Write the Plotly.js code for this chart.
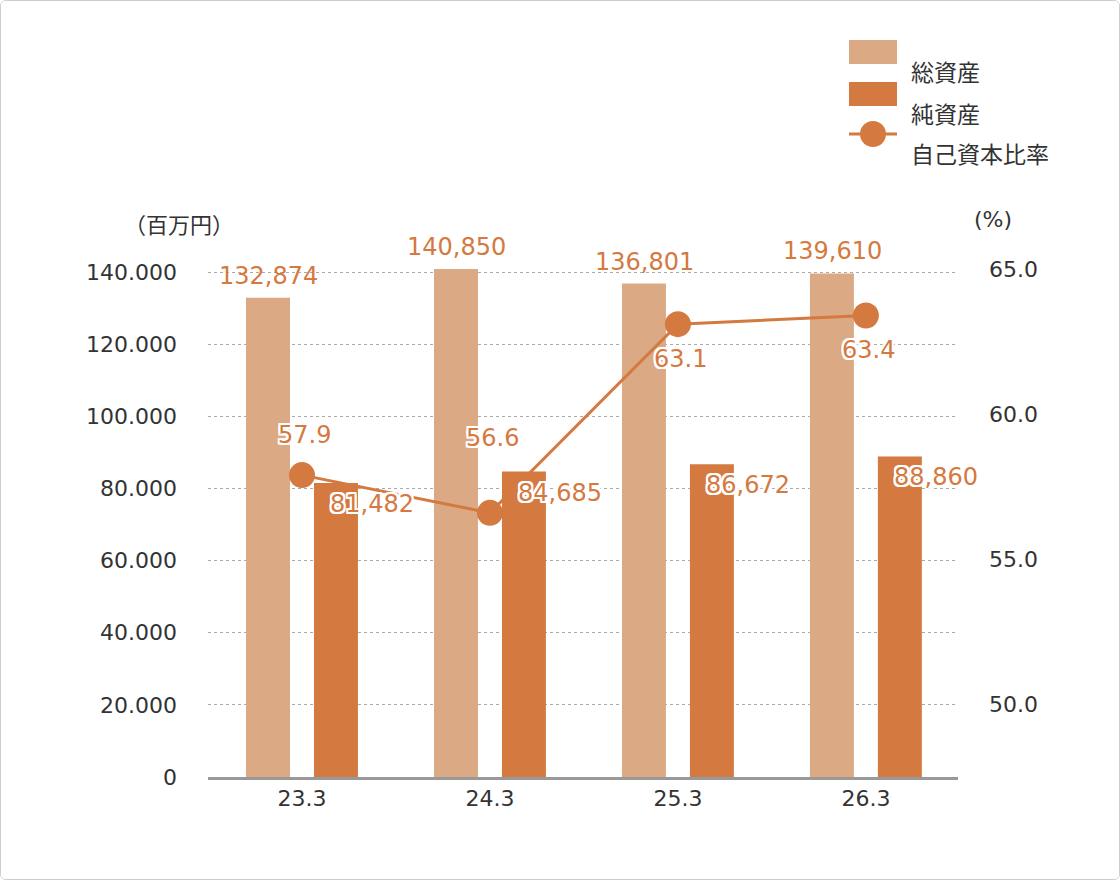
<!DOCTYPE html>
<html>
<head>
<meta charset="utf-8">
<script src="https://cdn.plot.ly/plotly-3.0.1.min.js"></script>
<style>
  body{margin:0;background:#fff}
  #chart{width:1118px;height:878px;border:1px solid #ccc;border-radius:6px;overflow:hidden}
</style>
</head>
<body>
<div id="chart"></div>
<script>
"use strict"

const categories = ["23.3", "24.3", "25.3", "26.3"]
const totalAssets = [132874, 140850, 136801, 139610]
const netAssets = [81482, 84685, 86672, 88860]
const equityRatio = [57.9, 56.6, 63.1, 63.4]
const ratioLabelShift = [40, 75, -35, -35]
const leftTicks = [0, 20000, 40000, 60000, 80000, 100000, 120000, 140000]
const rightTicks = [50, 55, 60, 65]
const legendNames = ["総資産", "純資産", "自己資本比率"]

const light = "#dba983"
const dark = "#d4793f"
const font = "DejaVu Sans, Noto Sans CJK JP, sans-serif"
const cjk = "Noto Sans CJK JP, sans-serif"
const halo = "2px 0 0 #fff, -2px 0 0 #fff, 0 2px 0 #fff, 0 -2px 0 #fff, 2px 2px 0 #fff, -2px -2px 0 #fff, 2px -2px 0 #fff, -2px 2px 0 #fff"

const fmt = v => v.toLocaleString("en-US")
const idx = categories.map((v,i)=>i)

const traces = [
  {type:"bar", name:legendNames[0], x:idx, y:totalAssets, marker:{color:light}, hoverinfo:"none"},
  {type:"bar", name:legendNames[1], x:idx, y:netAssets, marker:{color:dark}, hoverinfo:"none"},
  {type:"scatter", mode:"lines+markers", name:legendNames[2], x:idx, y:equityRatio, yaxis:"y2",
   line:{color:dark, width:3}, marker:{color:dark, size:26}, hoverinfo:"none"},
]

// hand-made legend (paper coords: x per px 1/750, y per px 1/537 from bottom at 777)
const px = v => (v-207)/750
const py = v => (777-v)/537
const legendY = [52, 94, 134]
const shapes = [
  {type:"rect", xref:"paper", yref:"paper", x0:px(848), x1:px(896), y0:py(64), y1:py(40), fillcolor:light, line:{width:0}},
  {type:"rect", xref:"paper", yref:"paper", x0:px(848), x1:px(896), y0:py(106), y1:py(82), fillcolor:dark, line:{width:0}},
  {type:"line", xref:"paper", yref:"paper", x0:px(848), x1:px(896), y0:py(134), y1:py(134), line:{color:dark, width:3}},
  {type:"circle", xref:"paper", yref:"paper", x0:px(859), x1:px(885), y0:py(147), y1:py(121), fillcolor:dark, line:{width:0}},
]

const annotations = [].concat(
  totalAssets.map((v,i)=>({x:i, y:v, xref:"x", yref:"y", text:fmt(v), showarrow:false,
    xshift:-33, yshift:22, font:{size:24, color:dark, family:font}})),
  netAssets.map((v,i)=>({x:i, y:v, xref:"x", yref:"y", text:fmt(v), showarrow:false,
    xshift:70, yshift:-21, font:{size:24, color:dark, family:font, shadow:halo}})),
  equityRatio.map((v,i)=>({x:i, y:v, xref:"x", yref:"y2", text:v.toFixed(1), showarrow:false,
    xshift:3, yshift:ratioLabelShift[i], font:{size:24, color:dark, family:font, shadow:halo}})),
  legendNames.map((v,i)=>({x:px(908), y:py(legendY[i]), xref:"paper", yref:"paper", text:v,
    xanchor:"left", showarrow:false, font:{size:23, color:"#333", family:cjk}})),
  [
    {x:-0.115, y:1.065, xref:"paper", yref:"paper", text:"（百万円）", showarrow:false,
     font:{size:22, color:"#333", family:cjk}},
    {x:1.075, y:1.065, xref:"paper", yref:"paper", text:"(%)", showarrow:false,
     font:{size:22, color:"#333", family:font}},
  ]
)

const layout = {
  width:1118, height:878,
  margin:{l:207, r:161, t:239, b:102},
  paper_bgcolor:"#fff", plot_bgcolor:"#fff",
  font:{family:font, color:"#333", size:22},
  barmode:"group", bargap:0.277, bargroupgap:0.353,
  showlegend:false,
  xaxis:{range:[-0.5, 3.49], tickvals:idx, ticktext:categories, showgrid:false, zeroline:false,
    showline:true, linecolor:"#999", linewidth:3, ticks:"", tickfont:{size:22}},
  yaxis:{range:[0, 148870], tickvals:leftTicks,
    ticktext:leftTicks.map(v=>v.toLocaleString("de-DE")),
    showgrid:true, gridcolor:"#aaa", griddash:"dot", gridwidth:1, zeroline:false,
    ticks:"", ticklabelstandoff:30, tickfont:{size:22}},
  yaxis2:{range:[47.5, 66.0], overlaying:"y", side:"right", tickvals:rightTicks,
    ticktext:rightTicks.map(v=>v.toFixed(1)), showgrid:false, zeroline:false, ticks:"",
    ticklabelstandoff:30, tickfont:{size:22}},
  shapes:shapes,
  annotations:annotations,
}

Plotly.newPlot("chart", traces, layout, {displayModeBar:false, staticPlot:true})
</script>
</body>
</html>
